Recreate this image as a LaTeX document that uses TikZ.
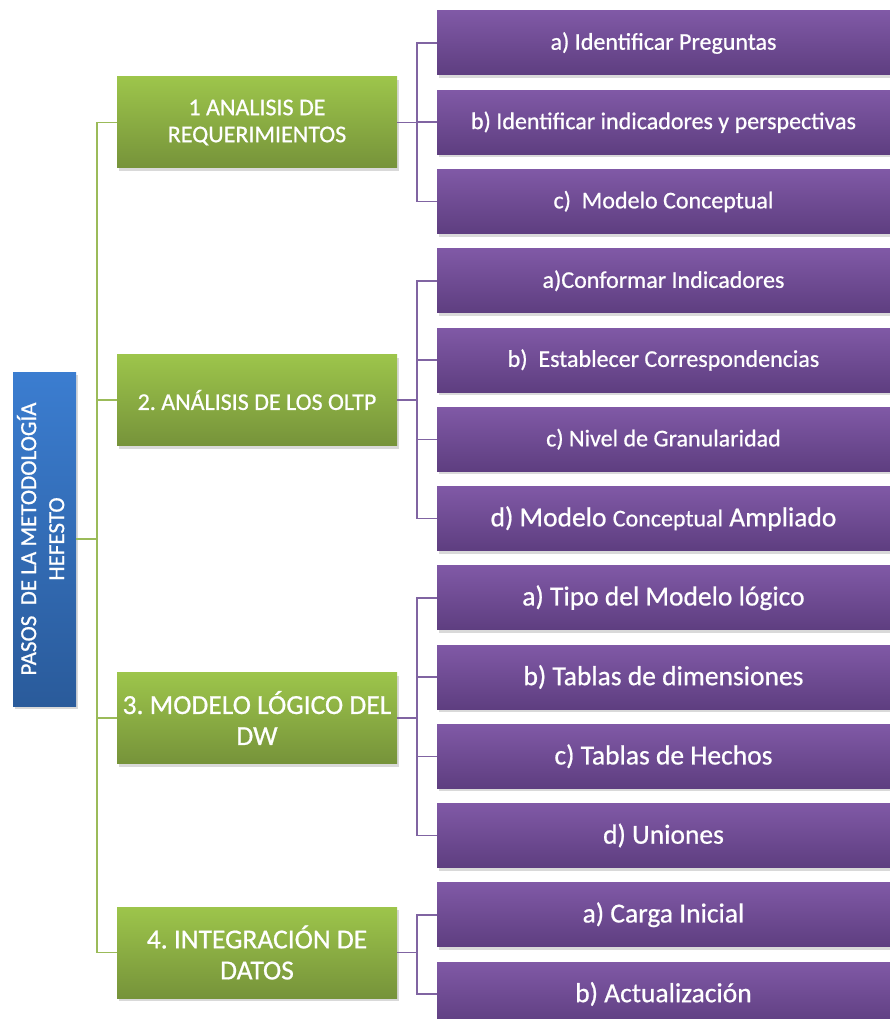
\documentclass[tikz,border=0pt]{standalone}
\usepackage{fontspec}
\usepackage{graphicx}
\setmainfont{Carlito}[FakeBold=0.7]
\frenchspacing
\usetikzlibrary{shadows}

\definecolor{greentop}{HTML}{9DC54B}
\definecolor{greenbot}{HTML}{76933A}
\definecolor{purpletop}{HTML}{8059A6}
\definecolor{purplebot}{HTML}{5E3E80}
\definecolor{bluetop}{HTML}{3B7DD0}
\definecolor{bluebot}{HTML}{2A5B9B}
\definecolor{greenlink}{HTML}{9BBB59}
\definecolor{purplelink}{HTML}{8064A2}

\newcommand{\itemfont}{\fontsize{24}{27}\selectfont}
\newcommand{\bigitemfont}{\fontsize{27.5}{31}\selectfont}

\tikzset{
  basebox/.style={rectangle, inner sep=0pt, text=white, align=center,
    drop shadow={opacity=0.3, shadow xshift=2pt, shadow yshift=-3pt}},
  greenbox/.style={basebox, minimum width=280pt, minimum height=91pt,
    top color=greentop, bottom color=greenbot, font=\itemfont},
  purplebox/.style={basebox, minimum width=453pt, minimum height=64pt,
    top color=purpletop, bottom color=purplebot, font=\itemfont},
  bluebox/.style={basebox, minimum width=63pt, minimum height=334pt,
    top color=bluetop, bottom color=bluebot, font=\fontsize{23}{28}\selectfont},
  greenline/.style={draw=greenlink, line width=1.5pt},
  purpleline/.style={draw=purplelink, line width=1.5pt}
}

\begin{document}
\begin{tikzpicture}[x=1pt, y=-1pt]
    \useasboundingbox (0,0) rectangle (890,1019);

    % main box
    \node[bluebox] (pasos) at (44.5,539) {\rotatebox{90}{\begin{tabular}{@{}c@{}}PASOS\ \ DE LA METODOLOGÍA\\HEFESTO\end{tabular}}};

    % steps
    \node[greenbox] (req) at (257,122.5) {1 ANALISIS DE\\REQUERIMIENTOS};
    \node[greenbox] (oltp) at (257,400) {2. ANÁLISIS DE LOS OLTP};
    \node[greenbox, font=\bigitemfont] (logico) at (257,718) {3. MODELO LÓGICO DEL\\DW};
    \node[greenbox, font=\bigitemfont] (integ) at (257,952.5) {4. INTEGRACIÓN DE\\DATOS};

    % sub steps
    \node[purplebox] (reqa) at (663.5,43) {a) Identificar Preguntas};
    \node[purplebox] (reqb) at (663.5,122.25) {b) Identificar indicadores y perspectivas};
    \node[purplebox] (reqc) at (663.5,201.5) {c)\ \ Modelo Conceptual};
    \node[purplebox] (oltpa) at (663.5,280.75) {a)Conformar Indicadores};
    \node[purplebox] (oltpb) at (663.5,360) {b)\ \ Establecer Correspondencias};
    \node[purplebox] (oltpc) at (663.5,439.25) {c) Nivel de Granularidad};
    \node[purplebox, font=\bigitemfont] (oltpd) at (663.5,518.5) {d) Modelo {\itemfont Conceptual} Ampliado};
    \node[purplebox, font=\bigitemfont] (logicoa) at (663.5,597.75) {a) Tipo del Modelo lógico};
    \node[purplebox, font=\bigitemfont] (logicob) at (663.5,677) {b) Tablas de dimensiones};
    \node[purplebox, font=\bigitemfont] (logicoc) at (663.5,756.25) {c) Tablas de Hechos};
    \node[purplebox, font=\bigitemfont] (logicod) at (663.5,835.5) {d) Uniones};
    \node[purplebox, font=\bigitemfont] (intega) at (663.5,914.75) {a) Carga Inicial};
    \node[purplebox, font=\bigitemfont] (integb) at (663.5,994) {b) Actualización};

    % green lines
    \coordinate (trunk) at (97,539);
    \draw[greenline] (pasos.east) -- (trunk);
    \draw[greenline] (trunk) |- (req.west);
    \draw[greenline] (trunk) |- (oltp.west);
    \draw[greenline] (trunk) |- (logico.west);
    \draw[greenline] (trunk) |- (integ.west);

    % purple lines
    \coordinate (reqfork) at (417,122.5);
    \draw[purpleline] (req.east) -- (reqfork);
    \draw[purpleline] (reqfork) |- (reqa.west);
    \draw[purpleline] (reqfork) |- (reqb.west);
    \draw[purpleline] (reqfork) |- (reqc.west);

    \coordinate (oltpfork) at (417,400);
    \draw[purpleline] (oltp.east) -- (oltpfork);
    \draw[purpleline] (oltpfork) |- (oltpa.west);
    \draw[purpleline] (oltpfork) |- (oltpb.west);
    \draw[purpleline] (oltpfork) |- (oltpc.west);
    \draw[purpleline] (oltpfork) |- (oltpd.west);

    \coordinate (logicofork) at (417,718);
    \draw[purpleline] (logico.east) -- (logicofork);
    \draw[purpleline] (logicofork) |- (logicoa.west);
    \draw[purpleline] (logicofork) |- (logicob.west);
    \draw[purpleline] (logicofork) |- (logicoc.west);
    \draw[purpleline] (logicofork) |- (logicod.west);

    \coordinate (integfork) at (417,952.5);
    \draw[purpleline] (integ.east) -- (integfork);
    \draw[purpleline] (integfork) |- (intega.west);
    \draw[purpleline] (integfork) |- (integb.west);
  \end{tikzpicture}
\end{document}
